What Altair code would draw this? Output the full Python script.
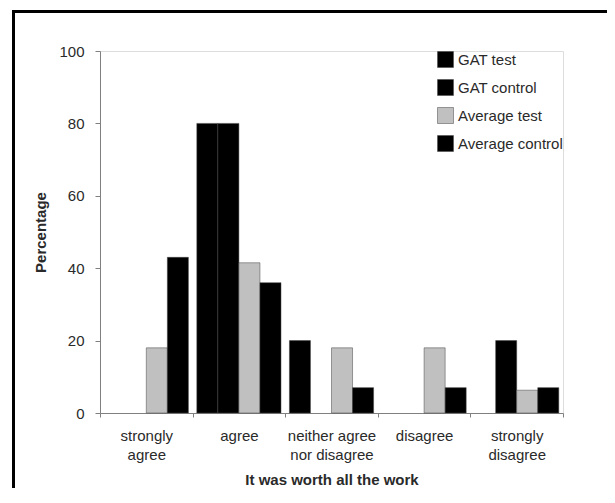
import altair as alt
import pandas as pd

categories = ["strongly agree", "agree", "neither agree nor disagree", "disagree", "strongly disagree"]
series = ["GAT test", "GAT control", "Average test", "Average control"]
gat_test = [0, 80, 20, 0, 0]
gat_control = [0, 80, 0, 0, 20]
average_test = [18, 41.5, 18, 18, 6.3]
average_control = [43, 36, 7, 7, 7]
colors = ["#000000", "#000000", "#c0c0c0", "#000000"]

rows = []
for s, vals in zip(series, [gat_test, gat_control, average_test, average_control]):
    for c, v in zip(categories, vals):
        rows.append({"category": c, "series": s, "value": v})
df = pd.DataFrame(rows)

FONT = "Liberation Sans"
FS = 15

label_expr = (
    "datum.label == 'strongly agree' ? ['strongly', 'agree'] : "
    "datum.label == 'neither agree nor disagree' ? ['neither agree', 'nor disagree'] : "
    "datum.label == 'strongly disagree' ? ['strongly', 'disagree'] : datum.label"
)

bars = alt.Chart(df).transform_filter("datum.value > 0").mark_bar(
    stroke="#444444", strokeWidth=0.5
).encode(
    x=alt.X(
        "category:N",
        sort=categories,
        scale=alt.Scale(paddingInner=0, paddingOuter=0),
        axis=alt.Axis(
            title="It was worth all the work",
            labelAngle=0,
            labelExpr=label_expr,
            labelLineHeight=19,
            labelPadding=11,
            labelFontSize=FS,
            labelFont=FONT,
            labelColor="#2a2a2a",
            tickBand="extent",
            tickSize=4,
            tickColor="#808080",
            domainColor="#808080",
            titleFont=FONT,
            titleFontSize=FS,
            titleFontWeight="bold",
            titleColor="#2a2a2a",
            titlePadding=10,
        ),
    ),
    xOffset=alt.XOffset(
        "series:N", sort=series, scale=alt.Scale(paddingOuter=0.2, paddingInner=0)
    ),
    y=alt.Y(
        "value:Q",
        scale=alt.Scale(domain=[0, 100], nice=False),
        axis=alt.Axis(
            title="Percentage",
            values=[0, 20, 40, 60, 80, 100],
            grid=False,
            tickSize=5,
            tickColor="#808080",
            domainColor="#808080",
            labelPadding=11,
            labelFontSize=FS,
            labelFont=FONT,
            labelColor="#2a2a2a",
            titleFont=FONT,
            titleFontSize=FS,
            titleFontWeight="bold",
            titleColor="#2a2a2a",
            titlePadding=10,
        ),
    ),
    color=alt.Color(
        "series:N",
        sort=series,
        scale=alt.Scale(domain=series, range=colors),
        legend=alt.Legend(
            title=None,
            orient="none",
            legendX=337,
            legendY=0,
            symbolType="square",
            symbolSize=256,
            symbolStrokeColor="#444444",
            symbolStrokeWidth=0.5,
            symbolOpacity=1,
            labelFont=FONT,
            labelFontSize=FS,
            labelColor="#2a2a2a",
            labelOffset=4,
            rowPadding=9,
            padding=0,
        ),
    ),
)

frame_data = pd.DataFrame({"a": [0]})
frame_top = alt.Chart(frame_data).mark_rule(stroke="#000000", strokeWidth=3).encode(
    x=alt.value(-88), x2=alt.value(507), y=alt.value(-39.5)
)
frame_left = alt.Chart(frame_data).mark_rule(stroke="#000000", strokeWidth=3).encode(
    x=alt.value(-86.5), y=alt.value(-41), y2=alt.value(437)
)

chart = alt.layer(frame_top, frame_left, bars).properties(
    width=463,
    height=362,
    autosize=alt.AutoSizeParams(type="none"),
    padding={"left": 92, "top": 43, "right": 44, "bottom": 75},
).configure_view(stroke=None).configure(background="white")

chart.save("out.html", embed_options={"renderer": "svg", "actions": False})
